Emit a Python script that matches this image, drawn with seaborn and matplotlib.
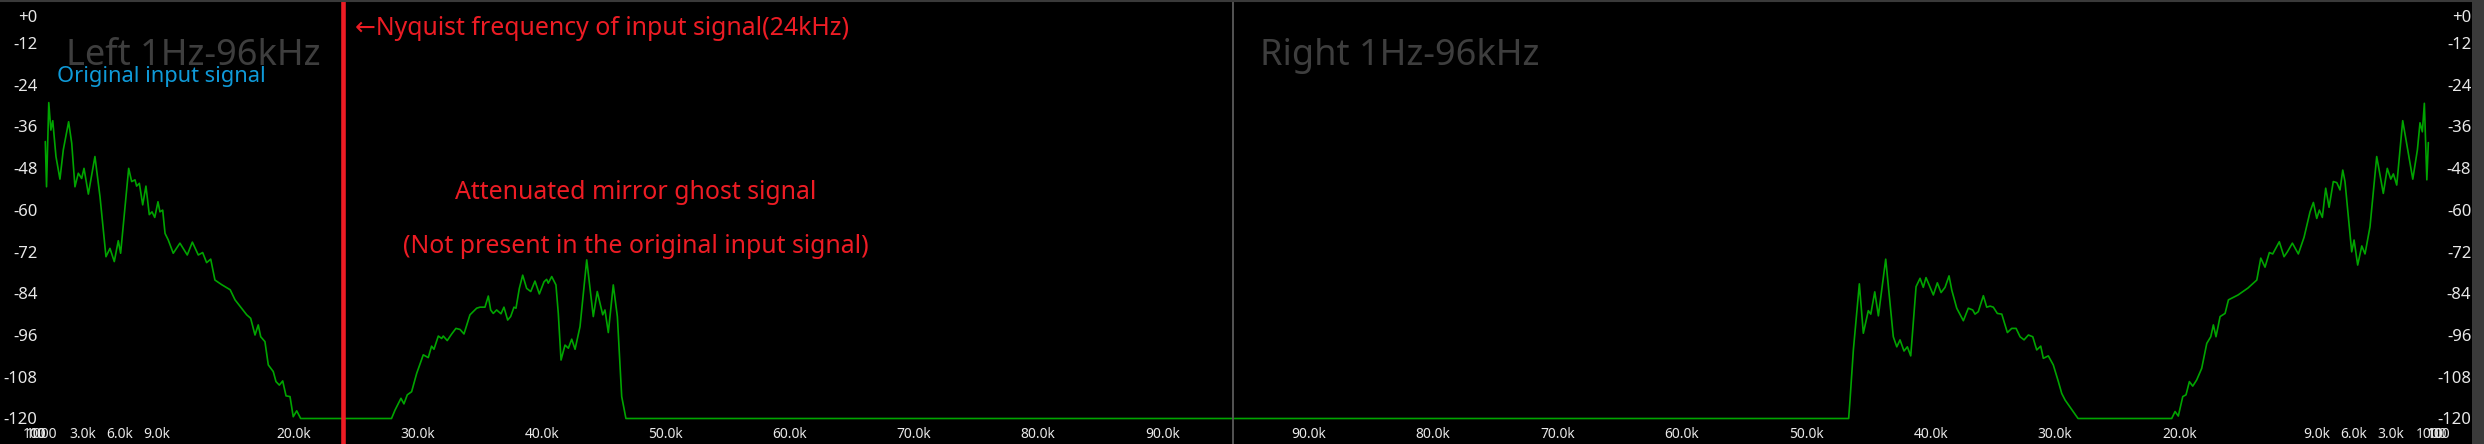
import matplotlib
matplotlib.use("Agg")
import matplotlib.pyplot as plt
import seaborn as sns
import pandas as pd
from matplotlib.transforms import ScaledTranslation
from matplotlib.lines import Line2D

# ---------------- data ----------------
left_freq_khz = [0.0, 0.1, 0.28, 0.45, 0.6, 0.86, 1.18, 1.45, 1.88, 2.13,
                 2.39, 2.66, 2.93, 3.12, 3.47, 4.0, 4.41, 4.89, 5.21, 5.56,
                 5.88, 6.07, 6.72, 6.96, 7.23, 7.36, 7.58, 7.85, 8.11, 8.38,
                 8.6, 8.82, 9.08, 9.24, 9.46, 9.65, 9.91, 10.31, 10.85, 11.44,
                 11.85, 12.33, 12.68, 13.0, 13.33, 13.67, 14.2, 14.9, 15.29, 16.23,
                 16.55, 16.9, 17.16, 17.36, 17.7, 17.97, 18.37, 18.59, 18.86, 19.13,
                 19.4, 19.72, 19.98, 20.26, 20.58, 27.9, 28.18, 28.66, 28.9, 29.17,
                 29.52, 29.93, 30.46, 30.86, 31.13, 31.32, 31.67, 31.94, 32.07, 32.39,
                 32.75, 33.09, 33.42, 33.74, 34.22, 34.76, 35.03, 35.43, 35.7, 35.89,
                 36.1, 36.37, 36.72, 36.96, 37.26, 37.5, 37.77, 37.93, 38.2, 38.47,
                 38.79, 39.12, 39.46, 39.81, 40.19, 40.4, 40.53, 40.81, 41.15, 41.34,
                 41.56, 41.88, 42.15, 42.42, 42.69, 43.09, 43.63, 44.16, 44.48, 44.92,
                 45.1, 45.37, 45.77, 46.1, 46.45, 46.79, 96.0]
left_db = [-40.4, -53.4, -29.2, -37.1, -34.4, -44.7, -51.2, -42.8, -34.7, -40.9,
           -53.4, -49.5, -51.0, -48.1, -55.5, -44.7, -56.3, -73.5, -71.1, -74.9,
           -68.9, -72.5, -48.1, -51.9, -51.4, -53.2, -52.4, -58.6, -53.2, -61.4,
           -60.6, -62.2, -57.7, -60.6, -60.1, -66.8, -68.7, -72.5, -69.6, -73.0,
           -69.3, -73.0, -72.3, -75.2, -74.2, -80.2, -81.5, -83.0, -85.9, -90.2,
           -91.2, -96.0, -93.1, -96.5, -97.9, -104.6, -106.5, -109.4, -110.4, -109.2,
           -113.5, -113.7, -119.5, -117.8, -120.0, -120.0, -117.6, -114.2, -115.8, -113.2,
           -112.3, -107.0, -101.7, -102.5, -99.2, -100.1, -96.3, -97.0, -96.3, -97.6,
           -95.7, -94.1, -94.4, -95.7, -90.2, -88.3, -88.0, -88.0, -84.8, -88.8,
           -89.8, -88.8, -89.9, -88.0, -91.7, -90.7, -88.0, -88.3, -82.6, -78.8,
           -82.6, -83.5, -80.5, -84.2, -80.7, -80.0, -81.1, -79.2, -81.6, -89.8,
           -103.2, -98.9, -99.8, -97.2, -100.1, -93.6, -74.4, -90.7, -83.5, -90.2,
           -88.8, -95.3, -81.6, -90.7, -113.7, -120.0, -120.0]

right_freq_khz = [0.0, 0.12, 0.32, 0.48, 0.67, 0.88, 1.25, 2.06, 2.54, 2.81,
                  3.02, 3.3, 3.62, 4.15, 4.69, 5.09, 5.35, 5.68, 5.97, 6.16,
                  6.7, 6.88, 7.1, 7.36, 7.64, 7.98, 8.25, 8.52, 8.76, 8.97,
                  9.24, 9.51, 9.99, 10.45, 10.93, 11.33, 11.6, 11.98, 12.51, 12.78,
                  13.13, 13.47, 13.79, 14.5, 15.3, 16.07, 16.34, 16.74, 17.07, 17.28,
                  17.49, 17.81, 18.22, 18.62, 18.94, 19.21, 19.48, 19.74, 20.1, 20.36,
                  20.63, 28.16, 29.2, 29.47, 29.74, 30.15, 30.55, 30.95, 31.16, 31.48,
                  31.8, 32.15, 32.5, 32.82, 33.14, 33.49, 33.84, 34.29, 34.65, 34.97,
                  35.23, 35.5, 35.77, 36.18, 36.44, 36.63, 36.98, 37.38, 37.91, 38.31,
                  38.53, 38.85, 39.17, 39.47, 39.79, 40.38, 40.6, 40.86, 41.18, 41.61,
                  41.88, 42.15, 42.47, 42.73, 43.01, 43.62, 44.21, 44.5, 44.82, 45.02,
                  45.42, 45.74, 46.22, 46.49, 46.6, 96.0]
right_db = [-40.7, -51.4, -29.4, -37.6, -35.0, -42.8, -51.2, -34.4, -52.9, -49.7,
            -51.2, -48.1, -55.3, -44.7, -64.9, -72.7, -70.4, -75.9, -68.7, -72.1,
            -51.9, -48.6, -54.3, -52.2, -51.9, -59.3, -53.8, -62.2, -60.1, -62.5,
            -57.9, -60.6, -67.9, -72.7, -69.6, -72.1, -73.5, -69.2, -72.7, -72.3,
            -76.5, -73.9, -80.2, -82.5, -84.5, -85.9, -89.8, -90.7, -96.5, -93.1,
            -96.5, -98.4, -105.6, -108.9, -110.7, -109.4, -113.2, -113.7, -119.3, -118.0,
            -120.0, -120.0, -114.7, -112.8, -109.4, -104.6, -102.0, -102.7, -99.2, -100.3,
            -96.5, -96.0, -97.4, -96.5, -94.1, -94.1, -95.3, -90.0, -89.8, -88.0,
            -87.7, -88.0, -84.7, -89.3, -90.0, -88.8, -88.3, -91.9, -88.3, -83.1,
            -79.0, -82.3, -83.8, -81.0, -84.5, -79.5, -82.3, -79.7, -82.1, -102.0,
            -99.4, -100.6, -97.4, -99.4, -96.5, -74.2, -90.5, -83.6, -90.0, -89.0,
            -95.5, -81.3, -100.3, -114.7, -120.0, -120.0]

y_ticks = [0, -12, -24, -36, -48, -60, -72, -84, -96, -108, -120]
y_tick_labels = ["+0", "-12", "-24", "-36", "-48", "-60", "-72", "-84", "-96", "-108", "-120"]
x_ticks_khz = [0.01, 0.1, 1, 3, 6, 9, 20, 30, 40, 50, 60, 70, 80, 90]
x_tick_labels = ["10", "100", "1000", "3.0k", "6.0k", "9.0k", "20.0k", "30.0k",
                 "40.0k", "50.0k", "60.0k", "70.0k", "80.0k", "90.0k"]
nyquist_khz = 24

# ---------------- style ----------------
sns.set_theme(style="dark")
FONT = ["Noto Sans", "DejaVu Sans"]
plt.rcParams["font.family"] = FONT
GREEN = "#00a400"
RED = "#ed1c24"
BLUE = "#0f9ad8"
TICKC = "#e8e8e8"
TITLEC = "#3e3e3e"
RED_FS = 17.9

W, H = 2484, 444
fig = plt.figure(figsize=(W / 100, H / 100), dpi=100, facecolor="#3a3a3a")
axL = fig.add_axes([0, 0, 1233 / W, 1])
axR = fig.add_axes([1233 / W, 0, (2472 - 1233) / W, 1])

dfL = pd.DataFrame({"freq_khz": left_freq_khz, "level_db": left_db})
dfR = pd.DataFrame({"freq_khz": right_freq_khz, "level_db": right_db})

for ax, df in ((axL, dfL), (axR, dfR)):
    ax.set_facecolor("black")
    sns.lineplot(data=df, x="freq_khz", y="level_db", ax=ax, color=GREEN,
                 linewidth=1.2, estimator=None, zorder=2)
    ax.set_xlabel("")
    ax.set_ylabel("")
    ax.grid(False)
    for s in ax.spines.values():
        s.set_visible(False)
    ax.set_ylim(-127.33, 0.29)
    ax.set_yticks(y_ticks)
    ax.set_yticklabels(y_tick_labels)
    ax.set_xticks(x_ticks_khz)
    ax.set_xticklabels(x_tick_labels)

axL.set_xlim(-3.65, 95.71)
axR.set_xlim(96.09, -3.51)

axR.spines["left"].set_visible(True)
axR.spines["left"].set_color("#5a5a5a")
axR.spines["left"].set_linewidth(1.3)

axL.axvline(nyquist_khz, color=RED, linewidth=3.3, zorder=3)

# tick styling
axL.tick_params(axis="y", length=0, pad=-27.1, labelsize=12, labelcolor=TICKC)
axR.yaxis.tick_right()
axR.tick_params(axis="y", length=0, pad=-0.5, labelsize=12, labelcolor=TICKC)
for ax in (axL, axR):
    ax.tick_params(axis="x", length=0, pad=-6.7, labelsize=10, labelcolor=TICKC)
for lbl in axR.get_yticklabels():
    lbl.set_ha("right")
for i, lbl in enumerate(axL.get_xticklabels()):
    lbl.set_va("center")
    if i < 3:
        lbl.set_ha("right")
for i, lbl in enumerate(axR.get_xticklabels()):
    lbl.set_va("center")
    if i < 3:
        lbl.set_ha("left")
for ax in (axL, axR):
    top = ax.get_yticklabels()[0]
    top.set_transform(top.get_transform() + ScaledTranslation(0, -0.15, fig.dpi_scale_trans))


def px(x, y):
    return x / W, 1 - y / H


# top border line
fig.add_artist(Line2D([0, 1], [1 - 1 / H, 1 - 1 / H], transform=fig.transFigure,
                      color="#3a3a3a", linewidth=1.5))

fig.text(*px(66, 65), "Left 1Hz-96kHz", fontsize=26, color=TITLEC, va="baseline", ha="left")
fig.text(*px(1260, 65), "Right 1Hz-96kHz", fontsize=26, color=TITLEC, va="baseline", ha="left")
fig.text(*px(57, 81.5), "Original input signal", fontsize=15.7, color=BLUE, va="baseline", ha="left")
fig.text(*px(355, 35), "\u2190Nyquist frequency of input signal(24kHz)", fontsize=RED_FS,
         color=RED, va="baseline", ha="left", family=FONT)
fig.text(*px(635.5, 199), "Attenuated mirror ghost signal", fontsize=RED_FS, color=RED,
         va="baseline", ha="center")
fig.text(*px(635.5, 252.6), "(Not present in the original input signal)", fontsize=RED_FS,
         color=RED, va="baseline", ha="center")

fig.savefig("out.png", dpi=100, facecolor=fig.get_facecolor())
